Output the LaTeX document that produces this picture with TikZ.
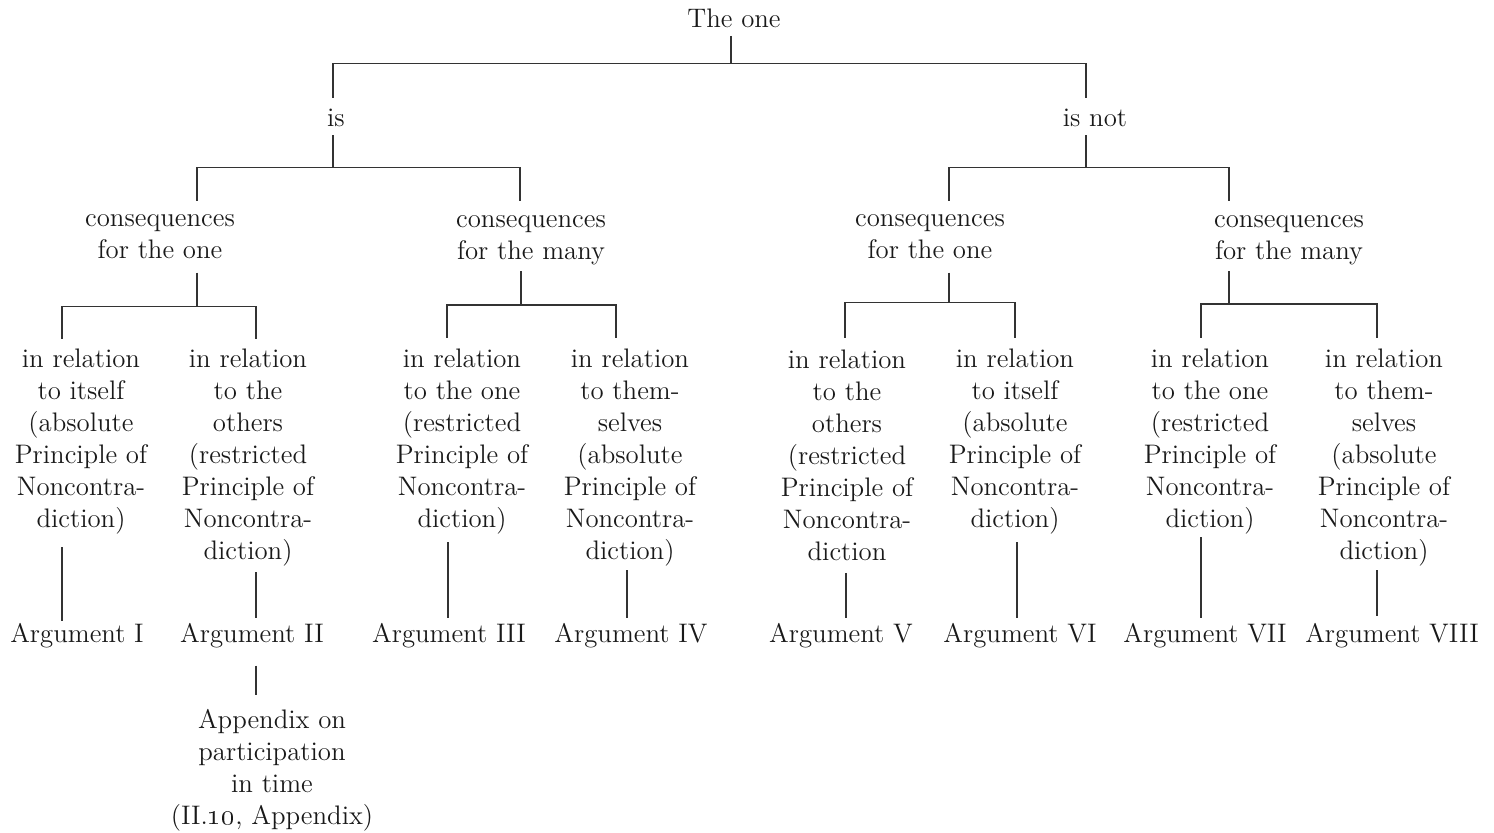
\documentclass[tikz,border=0pt]{standalone}
\usepackage{tikz}
\newcommand{\treefont}{\fontsize{13.4}{16}\selectfont}
\tikzset{
  leaf/.style={inner sep=0pt,align=center,font=\treefont,text=black!90},
  link/.style={line width=.65pt,draw=black!80},
}

\begin{document}
\begin{tikzpicture}[x=.5pt,y=-.5pt]
    \useasboundingbox (0,0) rectangle (1494,833);
    % top of the tree
    \node[leaf] (one) at (734,18) {The one};
    \node[leaf] (is) at (336,118) {is};
    \node[leaf] (isnot) at (1095,118) {is not};
    \node[leaf] (isOne) at (160,237) {consequences\\for the one};
    \node[leaf] (isMany) at (531,240) {consequences\\for the many};
    \node[leaf] (notOne) at (930,237) {consequences\\for the one};
    \node[leaf] (notMany) at (1289,240) {consequences\\for the many};
    % relations
    \node[leaf] (relI) at (81,442) {in relation\\to itself\\(absolute\\Principle of\\Noncontra-\\diction)};
    \node[leaf] (relII) at (248,458) {in relation\\to the\\others\\(restricted\\Principle of\\Noncontra-\\diction)};
    \node[leaf] (relIII) at (462,442) {in relation\\to the one\\(restricted\\Principle of\\Noncontra-\\diction)};
    \node[leaf] (relIV) at (630,458) {in relation\\to them-\\selves\\(absolute\\Principle of\\Noncontra-\\diction)};
    \node[leaf] (relV) at (847,455) {in relation\\to the\\others\\(restricted\\Principle of\\Noncontra-\\diction};
    \node[leaf] (relVI) at (1015,442) {in relation\\to itself\\(absolute\\Principle of\\Noncontra-\\diction)};
    \node[leaf] (relVII) at (1210,442) {in relation\\to the one\\(restricted\\Principle of\\Noncontra-\\diction)};
    \node[leaf] (relVIII) at (1384,458) {in relation\\to them-\\selves\\(absolute\\Principle of\\Noncontra-\\diction)};
    % arguments
    \node[leaf] (argI) at (77,636) {Argument I};
    \node[leaf] (argII) at (252,636) {Argument II};
    \node[leaf] (argIII) at (449,636) {Argument III};
    \node[leaf] (argIV) at (631,636) {Argument IV};
    \node[leaf] (argV) at (841,636) {Argument V};
    \node[leaf] (argVI) at (1020,636) {Argument VI};
    \node[leaf] (argVII) at (1205,636) {Argument VII};
    \node[leaf] (argVIII) at (1392,636) {Argument VIII};
    \node[leaf] (app) at (272,770) {Appendix on\\participation\\in time\\(II.\oldstylenums{10}, Appendix)};
    % forks
    \draw[link] ([shift={(-3,8)}]one.south) -- ++(0,28) coordinate (j0)
      -| ([shift={(-3,-11)}]is.north) (j0) -| ([shift={(-9,-11)}]isnot.north);
    \draw[link] ([shift={(-3,8)}]is.south) -- ++(0,32) coordinate (j1)
      -| ([shift={(37,-13.5)}]isOne.north) (j1) -| ([shift={(-11,-13.5)}]isMany.north);
    \draw[link] ([shift={(-9,8)}]isnot.south) -- ++(0,32) coordinate (j2)
      -| ([shift={(19,-13.5)}]notOne.north) (j2) -| ([shift={(-60,-13.5)}]notMany.north);
    \draw[link] ([shift={(37,13)}]isOne.south) -- ++(0,34) coordinate (j3)
      -| ([shift={(-19,-10)}]relI.north) (j3) -| ([shift={(8,-10)}]relII.north);
    \draw[link] ([shift={(-10,6)}]isMany.south) -- ++(0,34) coordinate (j4)
      -| ([shift={(-15,-11)}]relIII.north) (j4) -| ([shift={(-14,-11)}]relIV.north);
    \draw[link] ([shift={(19,13)}]notOne.south) -- ++(0,30) coordinate (j5)
      -| ([shift={(-2,-11)}]relV.north) (j5) -| ([shift={(0,-11)}]relVI.north);
    \draw[link] ([shift={(-60,6)}]notMany.south) -- ++(0,33) coordinate (j6)
      -| ([shift={(-9,-11)}]relVII.north) (j6) -| ([shift={(-7,-11)}]relVIII.north);
    % relation to argument
    \foreach \n/\dr/\gr/\da/\ga in {I/-19/12/-15/-2,II/8/5/4/-5,III/-14/7/-1/-5,IV/-3/3/-4/-5,
        V/-1/12/5/-5,VI/2/7/-3/-5,VII/-9/2/-4/-5,VIII/-7/3/-15/-7}{
      \draw[link] ([shift={(\dr,\gr)}]rel\n.south) -- ([shift={(\da,\ga)}]arg\n.north);
    }
    \draw[link] ([shift={(4,17)}]argII.south) -- ([shift={(-16,-14)}]app.north);
\end{tikzpicture}
\end{document}
